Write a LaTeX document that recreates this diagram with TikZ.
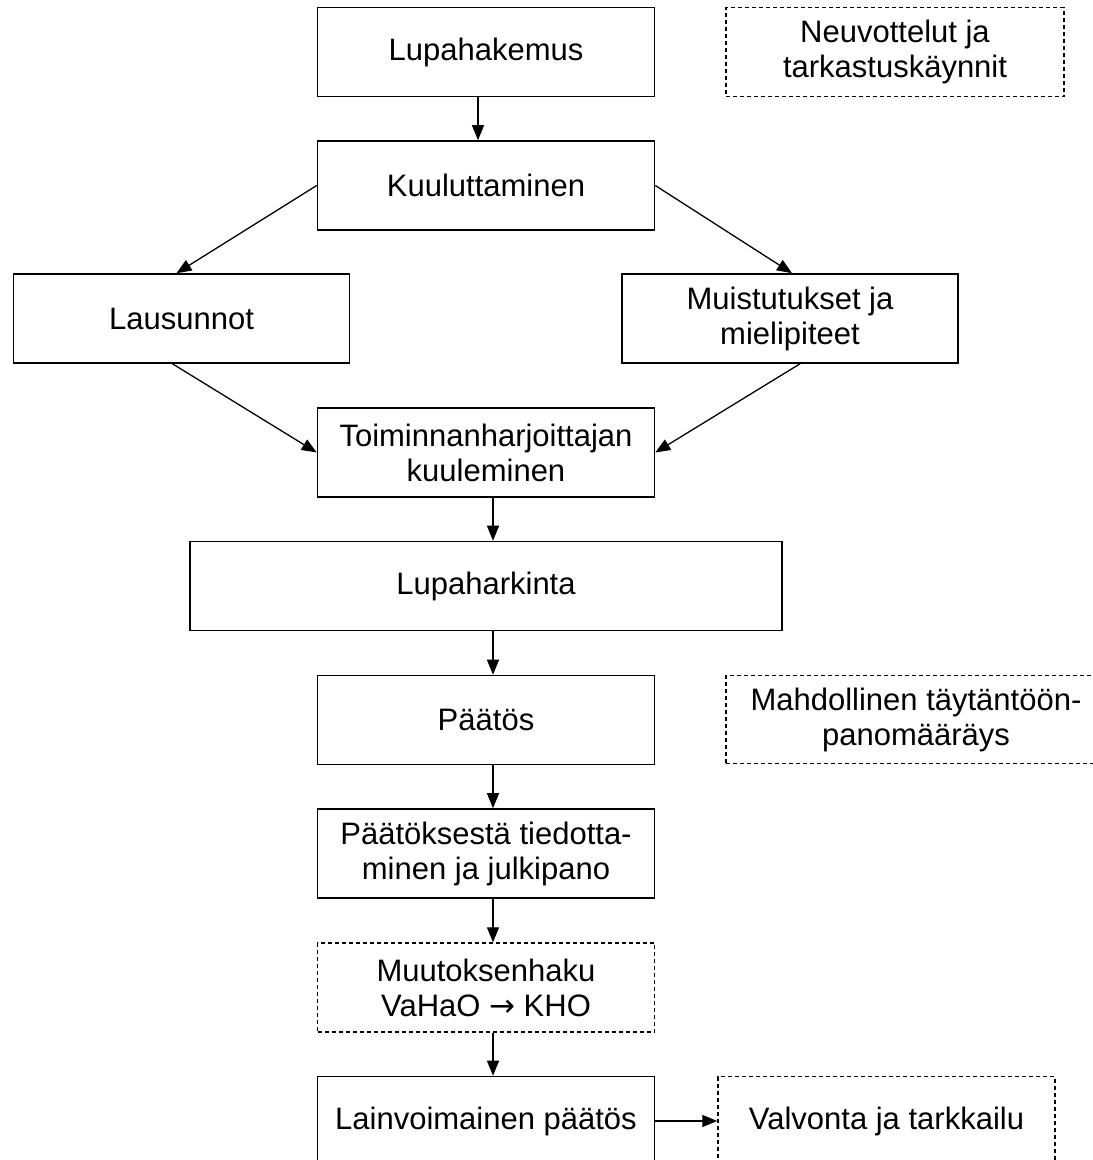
\documentclass[tikz,border=0pt]{standalone}
\usepackage{fontspec}
\setmainfont{Liberation Sans}
\newfontfamily\nuolifont{DejaVu Sans}
\usetikzlibrary{arrows.meta}

\begin{document}
\begin{tikzpicture}[x=1pt,y=-1pt,
        vaihe/.style={draw, line width=1.6pt, minimum width=337pt, minimum height=89pt,
            align=center, inner sep=0pt, font=\fontsize{31}{35}\selectfont},
        lisa/.style={vaihe, line width=1.4pt, dash pattern=on 4pt off 3pt},
        nuoli/.style={line width=1.3pt, -{Triangle[length=15pt,width=12pt]}}]
        % Rajataan kuva
        \clip (0,0) rectangle (1093,1160);
        \fill[white] (0,0) rectangle (1093,1160);

        % Vaiheet
        \node[vaihe] (hakemus) at (486,52) {Lupahakemus};
        \node[lisa, minimum width=338pt] (neuvot) at (895,52) {Neuvottelut ja\\tarkastuskäynnit};
        \node[vaihe] (kuulutus) at (486,185.5) {Kuuluttaminen};
        \node[vaihe, minimum width=336pt] (lausunnot) at (181.5,318.5) {Lausunnot};
        \node[vaihe, minimum width=336pt] (muistutukset) at (790,318.5) {Muistutukset ja\\mielipiteet};
        \node[vaihe] (kuuleminen) at (486,452.5) {Toiminnanharjoittajan\\kuuleminen};
        \node[vaihe, minimum width=592pt] (harkinta) at (486,586) {Lupaharkinta};
        \node[vaihe] (paatos) at (486,720) {Päätös};
        \node[lisa, minimum width=380pt, minimum height=88pt] (taytanto) at (916,719.5) {Mahdollinen täytäntöön-\\panomääräys};
        \node[vaihe] (tiedotus) at (486,853.5) {Päätöksestä tiedotta-\\minen ja julkipano};
        \node[lisa] (muutos) at (486,987.5) {Muutoksenhaku\\VaHaO {\nuolifont →} KHO};
        \node[vaihe] (lainvoima) at (486,1121) {Lainvoimainen päätös};
        \node[lisa] (valvonta) at (886.5,1121) {Valvonta ja tarkkailu};

        % Nuolet
        \draw[nuoli] ([xshift=-8pt]hakemus.south) -- ([xshift=-8pt]kuulutus.north);
        \draw[nuoli] (kuulutus.west) -- ([xshift=-5pt]lausunnot.north);
        \draw[nuoli] (kuulutus.east) -- ([xshift=2pt]muistutukset.north);
        \draw[nuoli] ([xshift=-9pt]lausunnot.south) -- (kuuleminen.west);
        \draw[nuoli] ([xshift=10pt]muistutukset.south) -- (kuuleminen.east);
        \draw[nuoli] ([xshift=7pt]kuuleminen.south) -- ([xshift=7pt]harkinta.north);
        \draw[nuoli] ([xshift=7pt]harkinta.south) -- ([xshift=7pt]paatos.north);
        \draw[nuoli] ([xshift=7pt]paatos.south) -- ([xshift=7pt]tiedotus.north);
        \draw[nuoli] ([xshift=7pt]tiedotus.south) -- ([xshift=7pt]muutos.north);
        \draw[nuoli] ([xshift=7pt]muutos.south) -- ([xshift=7pt]lainvoima.north);
        \draw[nuoli] (lainvoima.east) -- (valvonta.west);
\end{tikzpicture}
\end{document}
